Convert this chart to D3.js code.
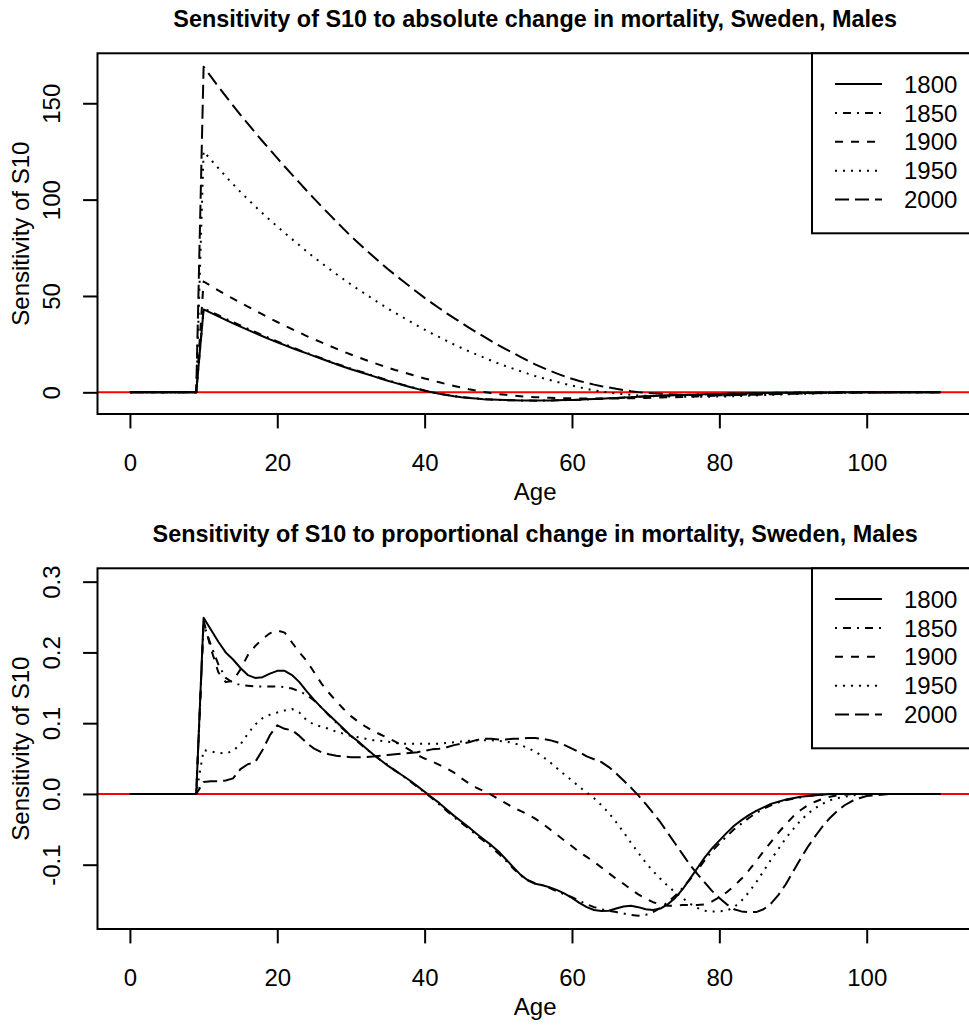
<!DOCTYPE html>
<html><head><meta charset="utf-8">
<script src="https://cdn.jsdelivr.net/npm/d3@7"></script>
<style>body{margin:0;background:#fff}svg{display:block}text{font-family:"Liberation Sans",Arial,Helvetica,sans-serif;fill:#000}</style>
</head><body>
<svg id="chart" width="969" height="1025"></svg>
<script>
// ---------------- DATA ----------------
const ages = [0,1,2,3,4,5,6,7,8,9,10,11,12,13,14,15,16,17,18,19,20,21,22,23,24,25,26,27,28,29,30,31,32,33,34,35,36,37,38,39,40,41,42,43,44,45,46,47,48,49,50,51,52,53,54,55,56,57,58,59,60,61,62,63,64,65,66,67,68,69,70,71,72,73,74,75,76,77,78,79,80,81,82,83,84,85,86,87,88,89,90,91,92,93,94,95,96,97,98,99,100,101,102,103,104,105,106,107,108,109,110];
const years = ["1800","1850","1900","1950","2000"];

const abs1800 = [0,0,0,0,0,0,0,0,0,0,
43.0,41.2,39.4,37.6,35.8,34.1,32.4,30.7,29.1,27.5,
26.0,24.5,23.0,21.6,20.2,18.8,17.4,16.0,14.6,13.3,
12.0,10.8,9.6,8.4,7.2,6.0,4.9,3.8,2.8,1.8,
0.8,0.0,-0.8,-1.4,-2.0,-2.5,-2.9,-3.25,-3.55,-3.75,
-3.9,-4.05,-4.15,-4.22,-4.27,-4.3,-4.28,-4.22,-4.15,-4.05,
-3.95,-3.8,-3.65,-3.5,-3.3,-3.1,-2.9,-2.7,-2.5,-2.3,
-2.1,-1.95,-1.8,-1.65,-1.5,-1.38,-1.26,-1.14,-1.03,-0.93,
-0.83,-0.74,-0.65,-0.57,-0.5,-0.43,-0.37,-0.31,-0.26,-0.21,
-0.17,-0.13,-0.1,-0.08,-0.06,-0.04,-0.03,-0.02,-0.01,-0.01,
0,0,0,0,0,0,0,0,0,0,0];
const abs1850 = [0,0,0,0,0,0,0,0,0,0,
43.6,41.8,40.0,38.2,36.4,34.7,33.0,31.3,29.6,28.0,
26.4,24.9,23.4,21.9,20.5,19.1,17.7,16.3,14.9,13.6,
12.3,11.1,9.9,8.7,7.5,6.3,5.1,4.0,3.0,2.0,
1.0,0.1,-0.7,-1.35,-1.95,-2.45,-2.88,-3.23,-3.53,-3.75,
-3.92,-4.06,-4.16,-4.24,-4.29,-4.32,-4.3,-4.25,-4.18,-4.08,
-3.98,-3.84,-3.7,-3.55,-3.36,-3.16,-2.96,-2.76,-2.56,-2.36,
-2.16,-1.99,-1.83,-1.68,-1.53,-1.4,-1.28,-1.16,-1.05,-0.95,
-0.85,-0.75,-0.66,-0.58,-0.5,-0.43,-0.37,-0.31,-0.26,-0.21,
-0.17,-0.13,-0.1,-0.08,-0.06,-0.04,-0.03,-0.02,-0.01,-0.01,
0,0,0,0,0,0,0,0,0,0,0];
const abs1900 = [0,0,0,0,0,0,0,0,0,0,
57.5,55.2,52.9,50.7,48.6,46.5,44.5,42.5,40.4,38.4,
36.5,34.6,32.8,31.0,29.2,27.5,25.9,24.3,22.7,21.1,
19.6,18.2,16.8,15.4,14.1,12.8,11.6,10.5,9.4,8.3,
7.2,6.2,5.2,4.2,3.3,2.4,1.6,0.9,0.2,-0.4,
-0.9,-1.3,-1.7,-2.0,-2.3,-2.5,-2.7,-2.85,-2.97,-3.05,
-3.1,-3.15,-3.18,-3.2,-3.2,-3.2,-3.18,-3.14,-3.08,-3.0,
-2.9,-2.8,-2.7,-2.6,-2.5,-2.4,-2.26,-2.12,-1.98,-1.84,
-1.7,-1.56,-1.42,-1.28,-1.14,-1.0,-0.9,-0.8,-0.7,-0.6,
-0.5,-0.43,-0.36,-0.3,-0.25,-0.2,-0.15,-0.11,-0.08,-0.05,
-0.03,-0.02,-0.01,0,0,0,0,0,0,0,0];
const abs1950 = [0,0,0,0,0,0,0,0,0,0,
125,120.6,116.3,112.1,108.0,104.0,100.2,96.5,92.9,89.4,
86.0,82.7,79.5,76.3,73.1,70.0,67.1,64.2,61.4,58.7,
56.0,53.4,50.9,48.4,45.9,43.5,41.2,39.0,36.8,34.6,
32.5,30.5,28.6,26.7,24.8,23.0,21.3,19.7,18.1,16.5,
15.0,13.6,12.3,11.0,9.7,8.5,7.4,6.4,5.4,4.4,
3.5,2.6,1.8,1.0,0.4,-0.2,-0.6,-1.0,-1.3,-1.6,
-1.8,-1.95,-2.08,-2.18,-2.25,-2.3,-2.32,-2.32,-2.3,-2.26,
-2.2,-2.1,-1.98,-1.85,-1.72,-1.6,-1.46,-1.32,-1.18,-1.04,
-0.9,-0.79,-0.68,-0.58,-0.49,-0.4,-0.32,-0.25,-0.19,-0.14,
-0.1,-0.07,-0.05,-0.03,-0.02,-0.01,0,0,0,0,0];
const abs2000 = [0,0,0,0,0,0,0,0,0,0,
169,163.8,158.7,153.7,148.8,144.0,139.4,134.8,130.3,125.9,
121.5,117.2,113.0,108.8,104.6,100.5,96.5,92.6,88.7,84.8,
81.0,77.5,74.0,70.6,67.3,64.0,60.9,57.9,54.9,51.9,
49.0,46.3,43.6,41.0,38.5,36.0,33.6,31.3,29.0,26.7,
24.5,22.4,20.4,18.4,16.4,14.5,12.8,11.2,9.7,8.3,
7.0,5.9,4.9,4.0,3.2,2.5,1.8,1.2,0.6,0.1,
-0.3,-0.55,-0.8,-1.0,-1.15,-1.3,-1.38,-1.45,-1.5,-1.52,
-1.5,-1.46,-1.4,-1.33,-1.26,-1.2,-1.1,-1.0,-0.9,-0.8,
-0.7,-0.61,-0.52,-0.44,-0.37,-0.3,-0.24,-0.19,-0.15,-0.12,
-0.1,-0.08,-0.06,-0.04,-0.03,-0.02,-0.01,0,0,0,0];

const prop1800 = [0,0,0,0,0,0,0,0,0,0,
0.249,0.232,0.215,0.2,0.19,0.178,0.168,0.164,0.165,0.17,
0.174,0.174,0.168,0.158,0.145,0.133,0.122,0.112,0.102,0.092,
0.082,0.074,0.065,0.056,0.048,0.04,0.033,0.026,0.019,0.011,
0.003,-0.005,-0.013,-0.022,-0.031,-0.039,-0.047,-0.056,-0.064,-0.072,
-0.081,-0.092,-0.103,-0.114,-0.122,-0.127,-0.129,-0.132,-0.136,-0.141,
-0.147,-0.154,-0.16,-0.164,-0.1655,-0.165,-0.162,-0.159,-0.158,-0.16,
-0.163,-0.164,-0.162,-0.156,-0.147,-0.135,-0.12,-0.105,-0.09,-0.077,
-0.066,-0.055,-0.045,-0.037,-0.03,-0.024,-0.019,-0.014,-0.011,-0.008,
-0.006,-0.004,-0.003,-0.002,-0.001,0,0,0,0,0,
0,0,0,0,0,0,0,0,0,0,0];
const prop1850 = [0,0,0,0,0,0,0,0,0,0,
0.24,0.21,0.183,0.164,0.157,0.154,0.153,0.152,0.152,0.152,
0.152,0.151,0.149,0.145,0.14,0.132,0.122,0.111,0.101,0.091,
0.082,0.073,0.064,0.056,0.048,0.041,0.033,0.026,0.018,0.01,
0.002,-0.006,-0.015,-0.024,-0.033,-0.041,-0.049,-0.058,-0.066,-0.075,
-0.084,-0.094,-0.105,-0.115,-0.122,-0.126,-0.129,-0.133,-0.138,-0.142,
-0.146,-0.151,-0.156,-0.16,-0.163,-0.165,-0.167,-0.169,-0.171,-0.172,
-0.171,-0.167,-0.161,-0.153,-0.144,-0.133,-0.121,-0.108,-0.094,-0.081,
-0.07,-0.06,-0.05,-0.042,-0.034,-0.027,-0.021,-0.016,-0.012,-0.009,
-0.007,-0.005,-0.003,-0.002,-0.001,0,0,0,0,0,
0,0,0,0,0,0,0,0,0,0,0];
const prop1900 = [0,0,0,0,0,0,0,0,0,0,
0.245,0.205,0.172,0.158,0.16,0.176,0.196,0.209,0.219,0.227,
0.231,0.228,0.214,0.2,0.188,0.172,0.156,0.143,0.131,0.12,
0.11,0.102,0.095,0.089,0.084,0.079,0.074,0.068,0.062,0.055,
0.05,0.046,0.041,0.036,0.03,0.022,0.015,0.009,0.004,-0.001,
-0.007,-0.013,-0.019,-0.024,-0.029,-0.035,-0.042,-0.05,-0.058,-0.066,
-0.074,-0.082,-0.089,-0.096,-0.104,-0.112,-0.12,-0.127,-0.135,-0.142,
-0.148,-0.153,-0.156,-0.158,-0.158,-0.157,-0.157,-0.157,-0.156,-0.152,
-0.146,-0.139,-0.13,-0.12,-0.108,-0.095,-0.081,-0.068,-0.055,-0.043,
-0.032,-0.023,-0.016,-0.011,-0.007,-0.004,-0.002,-0.001,0,0,
0,0,0,0,0,0,0,0,0,0,0];
const prop1950 = [0,0,0,0,0,0,0,0,0,0,
0.062,0.06,0.058,0.057,0.061,0.07,0.085,0.098,0.107,0.112,
0.115,0.118,0.12,0.115,0.104,0.098,0.095,0.092,0.088,0.085,
0.082,0.08,0.078,0.076,0.075,0.074,0.072,0.071,0.071,0.071,
0.071,0.071,0.071,0.072,0.073,0.074,0.075,0.076,0.076,0.076,
0.075,0.074,0.072,0.069,0.065,0.06,0.053,0.045,0.036,0.027,
0.019,0.01,0.002,-0.006,-0.016,-0.027,-0.04,-0.054,-0.069,-0.083,
-0.097,-0.109,-0.12,-0.13,-0.139,-0.147,-0.155,-0.161,-0.165,-0.166,
-0.166,-0.165,-0.16,-0.151,-0.139,-0.125,-0.109,-0.093,-0.078,-0.063,
-0.05,-0.038,-0.028,-0.02,-0.014,-0.009,-0.006,-0.004,-0.002,-0.001,
0,0,0,0,0,0,0,0,0,0,0];
const prop2000 = [0,0,0,0,0,0,0,0,0,0,
0.017,0.018,0.018,0.019,0.022,0.035,0.042,0.045,0.062,0.083,
0.097,0.092,0.09,0.082,0.072,0.064,0.059,0.056,0.054,0.053,
0.052,0.052,0.052,0.053,0.054,0.055,0.056,0.057,0.058,0.059,
0.061,0.063,0.064,0.066,0.069,0.071,0.073,0.076,0.078,0.078,
0.077,0.077,0.078,0.078,0.079,0.079,0.078,0.076,0.073,0.069,
0.064,0.059,0.053,0.049,0.045,0.038,0.029,0.019,0.009,-0.002,
-0.014,-0.027,-0.04,-0.055,-0.07,-0.085,-0.1,-0.113,-0.125,-0.137,
-0.147,-0.156,-0.163,-0.166,-0.167,-0.167,-0.163,-0.155,-0.143,-0.128,
-0.11,-0.092,-0.075,-0.06,-0.046,-0.034,-0.024,-0.016,-0.01,-0.006,
-0.003,-0.002,-0.001,0,0,0,0,0,0,0,0];

const xTicks = [0,20,40,60,80,100];
const yTicksAbs = [0,50,100,150];
const yTicksProp = [-0.1,0,0.1,0.2,0.3];
const yTickLabelsProp = ["-0.1","0.0","0.1","0.2","0.3"];
const propYLimTop = 0.3;

// ---------------- STYLE / LAYOUT ----------------
const dashes = ["none","2,6,8,6","8,8","2,6","14,6"];
const FONT = 24, TITLE_FONT = 23.4;
const boxL = 97.5, boxR = 972.8, boxH = 360.7;
const svg = d3.select("#chart");

function pad(lo, hi){ const r = hi - lo; return [lo - 0.04*r, hi + 0.04*r]; }

function drawPanel(opt){
  const top = opt.top, bottom = top + boxH;
  const g = svg.append("g");
  const x = d3.scaleLinear().domain(pad(...d3.extent(ages))).range([boxL, boxR]);
  const y = d3.scaleLinear().domain(pad(opt.yMin, opt.yMax)).range([bottom, top]);

  // title
  g.append("text").attr("x", (boxL+boxR)/2).attr("y", top - 26.5)
    .attr("text-anchor","middle").attr("font-weight","bold").attr("font-size", TITLE_FONT)
    .text(opt.title);

  // zero reference line (red)
  g.append("line").attr("x1", boxL).attr("x2", boxR).attr("y1", y(0)).attr("y2", y(0))
    .attr("stroke","#ff0000").attr("stroke-width",2);

  // curves
  const line = d3.line().x((d,i)=>x(ages[i])).y(d=>y(d));
  opt.series.forEach((s,k)=>{
    g.append("path").datum(s).attr("d", line).attr("fill","none")
      .attr("stroke","#000").attr("stroke-width",2)
      .attr("stroke-dasharray", dashes[k]).attr("stroke-linejoin","round");
  });

  // box
  g.append("rect").attr("x", boxL).attr("y", top).attr("width", boxR-boxL).attr("height", boxH)
    .attr("fill","none").attr("stroke","#000").attr("stroke-width",2);

  // x axis
  const xa = g.append("g").attr("transform", `translate(0,${bottom})`)
    .call(d3.axisBottom(x).tickValues(xTicks).tickSize(14.4).tickFormat(d3.format("d")));
  xa.select(".domain").remove();
  xa.selectAll(".tick line").attr("stroke","#000").attr("stroke-width",2);
  xa.selectAll(".tick text").attr("y", 56.5).attr("dy", null).attr("font-size", FONT)
    .attr("font-family","Liberation Sans, Arial, sans-serif").attr("fill","#000");
  g.append("text").attr("x",(boxL+boxR)/2).attr("y", bottom + 85.5).attr("text-anchor","middle")
    .attr("font-size", FONT).text("Age");

  // y axis
  const ya = g.append("g").attr("transform", `translate(${boxL},0)`)
    .call(d3.axisLeft(y).tickValues(opt.yTicks).tickSize(14.4).tickFormat((d,i)=>opt.yLabels[i]));
  ya.select(".domain").remove();
  ya.selectAll(".tick line").attr("stroke","#000").attr("stroke-width",2);
  ya.selectAll(".tick text").attr("x", 0).attr("y", -38).attr("dy", null)
    .attr("transform","rotate(-90)").attr("text-anchor","middle").attr("font-size", FONT)
    .attr("font-family","Liberation Sans, Arial, sans-serif").attr("fill","#000");
  g.append("text").attr("transform", `translate(29,${(top+bottom)/2}) rotate(-90)`)
    .attr("text-anchor","middle").attr("font-size", FONT).text("Sensitivity of S10");

  // legend
  const lgL = 812, lgH = 180, rowH = 28.9;
  g.append("rect").attr("x", lgL).attr("y", top).attr("width", boxR - lgL).attr("height", lgH)
    .attr("fill","#fff").attr("stroke","#000").attr("stroke-width",2);
  years.forEach((yr,k)=>{
    const cy = top + 30.7 + k*rowH;
    g.append("line").attr("x1", 835).attr("x2", 882).attr("y1", cy).attr("y2", cy)
      .attr("stroke","#000").attr("stroke-width",2).attr("stroke-dasharray", dashes[k]);
    g.append("text").attr("x", 904).attr("y", cy + 8.6).attr("font-size", FONT).text(yr);
  });
}

const absSeries = [abs1800, abs1850, abs1900, abs1950, abs2000];
const propSeries = [prop1800, prop1850, prop1900, prop1950, prop2000];

drawPanel({
  top: 53.3,
  title: "Sensitivity of S10 to absolute change in mortality, Sweden, Males",
  series: absSeries,
  yMin: d3.min(absSeries.flat()), yMax: d3.max(absSeries.flat()),
  yTicks: yTicksAbs, yLabels: yTicksAbs.map(String)
});
drawPanel({
  top: 568.3,
  title: "Sensitivity of S10 to proportional change in mortality, Sweden, Males",
  series: propSeries,
  yMin: d3.min(propSeries.flat()), yMax: propYLimTop,
  yTicks: yTicksProp, yLabels: yTickLabelsProp
});
</script>
</body></html>
